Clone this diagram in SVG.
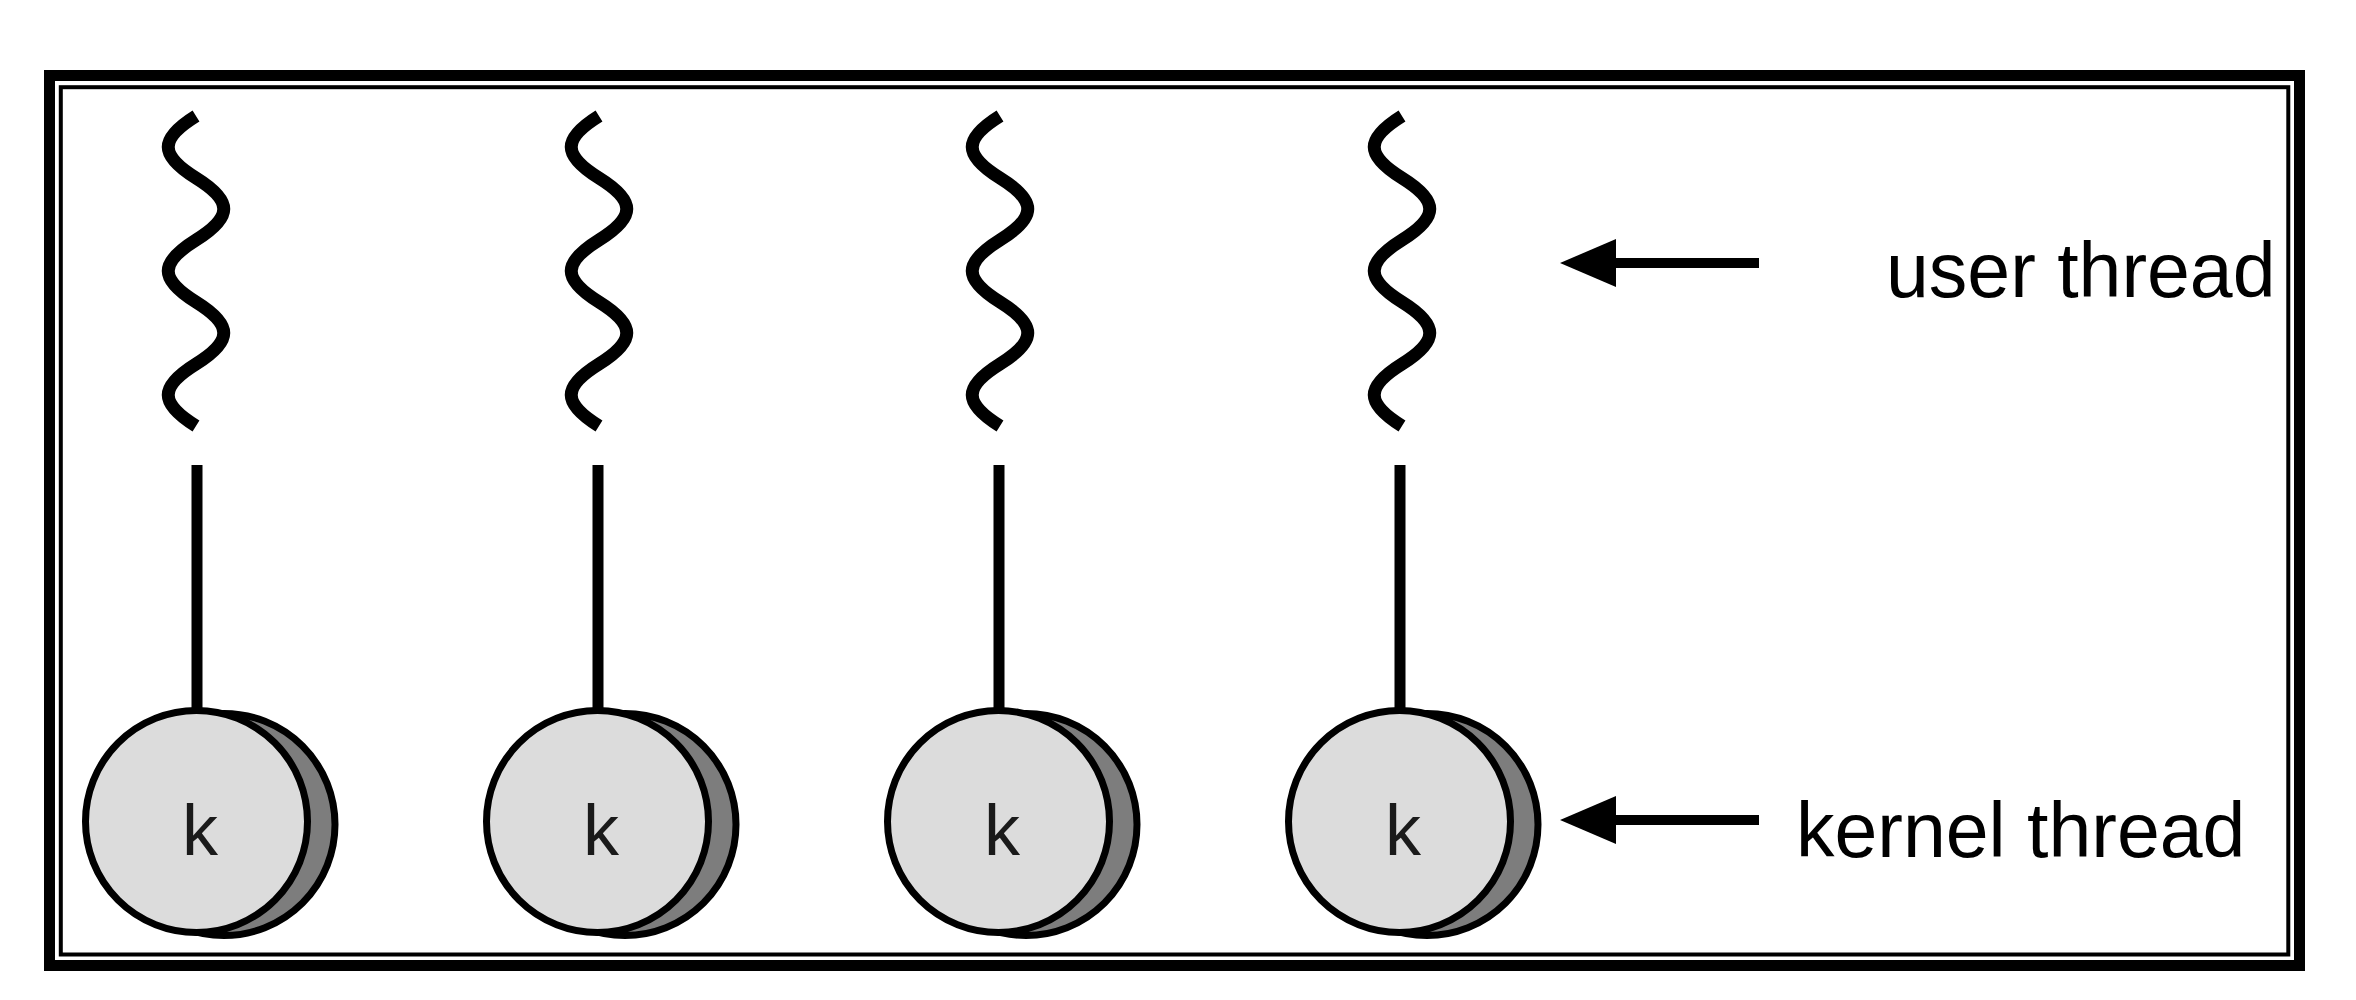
<svg xmlns="http://www.w3.org/2000/svg" width="2356" height="1000" viewBox="0 0 2356 1000">
<style>
.wave{fill:none;stroke:#000;stroke-width:13}
.conn{stroke:#000;stroke-width:11}
.arr{stroke:#000;stroke-width:10}
.shadow{fill:#7d7d7d;stroke:#000;stroke-width:7}
.disc{fill:#dcdcdc;stroke:#000;stroke-width:7}
.k{font-family:"Liberation Sans",Arial,sans-serif;font-size:72px;fill:#1a1a1a;text-anchor:middle}
.lbl{font-family:"Liberation Sans",Arial,sans-serif;font-size:77px;fill:#000}
</style>
<defs>
<marker id="head" viewBox="0 0 56 48" refX="6" refY="24" markerWidth="56" markerHeight="48" markerUnits="userSpaceOnUse" orient="auto">
<path d="M0,0 L56,24 L0,48 Z" fill="#000"/>
</marker>
<path id="wv" d="M0,116 C-37,139 -37,155 0,178 S37,217 0,240 S-37,279 0,302 S37,341 0,364 S-37,403 0,426"/>
</defs>
<rect width="2356" height="1000" fill="#fff"/>
<g id="frame" fill="none" stroke="#000">
<rect x="49.5" y="75.5" width="2250" height="890" stroke-width="11"/>
<rect x="60.8" y="87.2" width="2227.5" height="867.3" stroke-width="4"/>
</g>
<g id="connectors">
<line class="conn" x1="197" y1="465" x2="197" y2="712"/>
<line class="conn" x1="598" y1="465" x2="598" y2="712"/>
<line class="conn" x1="999" y1="465" x2="999" y2="712"/>
<line class="conn" x1="1400" y1="465" x2="1400" y2="712"/>
<line class="arr" x1="1759" y1="263" x2="1610" y2="263" marker-end="url(#head)"/>
<line class="arr" x1="1759" y1="820" x2="1610" y2="820" marker-end="url(#head)"/>
</g>
<g id="user-thread-1"><use href="#wv" class="wave" transform="translate(196,0)"/></g>
<g id="user-thread-2"><use href="#wv" class="wave" transform="translate(599,0)"/></g>
<g id="user-thread-3"><use href="#wv" class="wave" transform="translate(1000,0)"/></g>
<g id="user-thread-4"><use href="#wv" class="wave" transform="translate(1402,0)"/></g>
<g id="kernel-thread-1">
<circle class="shadow" cx="224" cy="824.5" r="111"/>
<circle class="disc" cx="196.5" cy="821.5" r="111"/>
<text class="k" x="200" y="855">k</text>
</g>
<g id="kernel-thread-2">
<circle class="shadow" cx="625" cy="824.5" r="111"/>
<circle class="disc" cx="597.5" cy="821.5" r="111"/>
<text class="k" x="601" y="855">k</text>
</g>
<g id="kernel-thread-3">
<circle class="shadow" cx="1026" cy="824.5" r="111"/>
<circle class="disc" cx="998.5" cy="821.5" r="111"/>
<text class="k" x="1002" y="855">k</text>
</g>
<g id="kernel-thread-4">
<circle class="shadow" cx="1427" cy="824.5" r="111"/>
<circle class="disc" cx="1399.5" cy="821.5" r="111"/>
<text class="k" x="1403" y="855">k</text>
</g>
<g id="label-user-thread"><text class="lbl" x="1886" y="297">user thread</text></g>
<g id="label-kernel-thread"><text class="lbl" x="1796" y="857">kernel thread</text></g>
</svg>
